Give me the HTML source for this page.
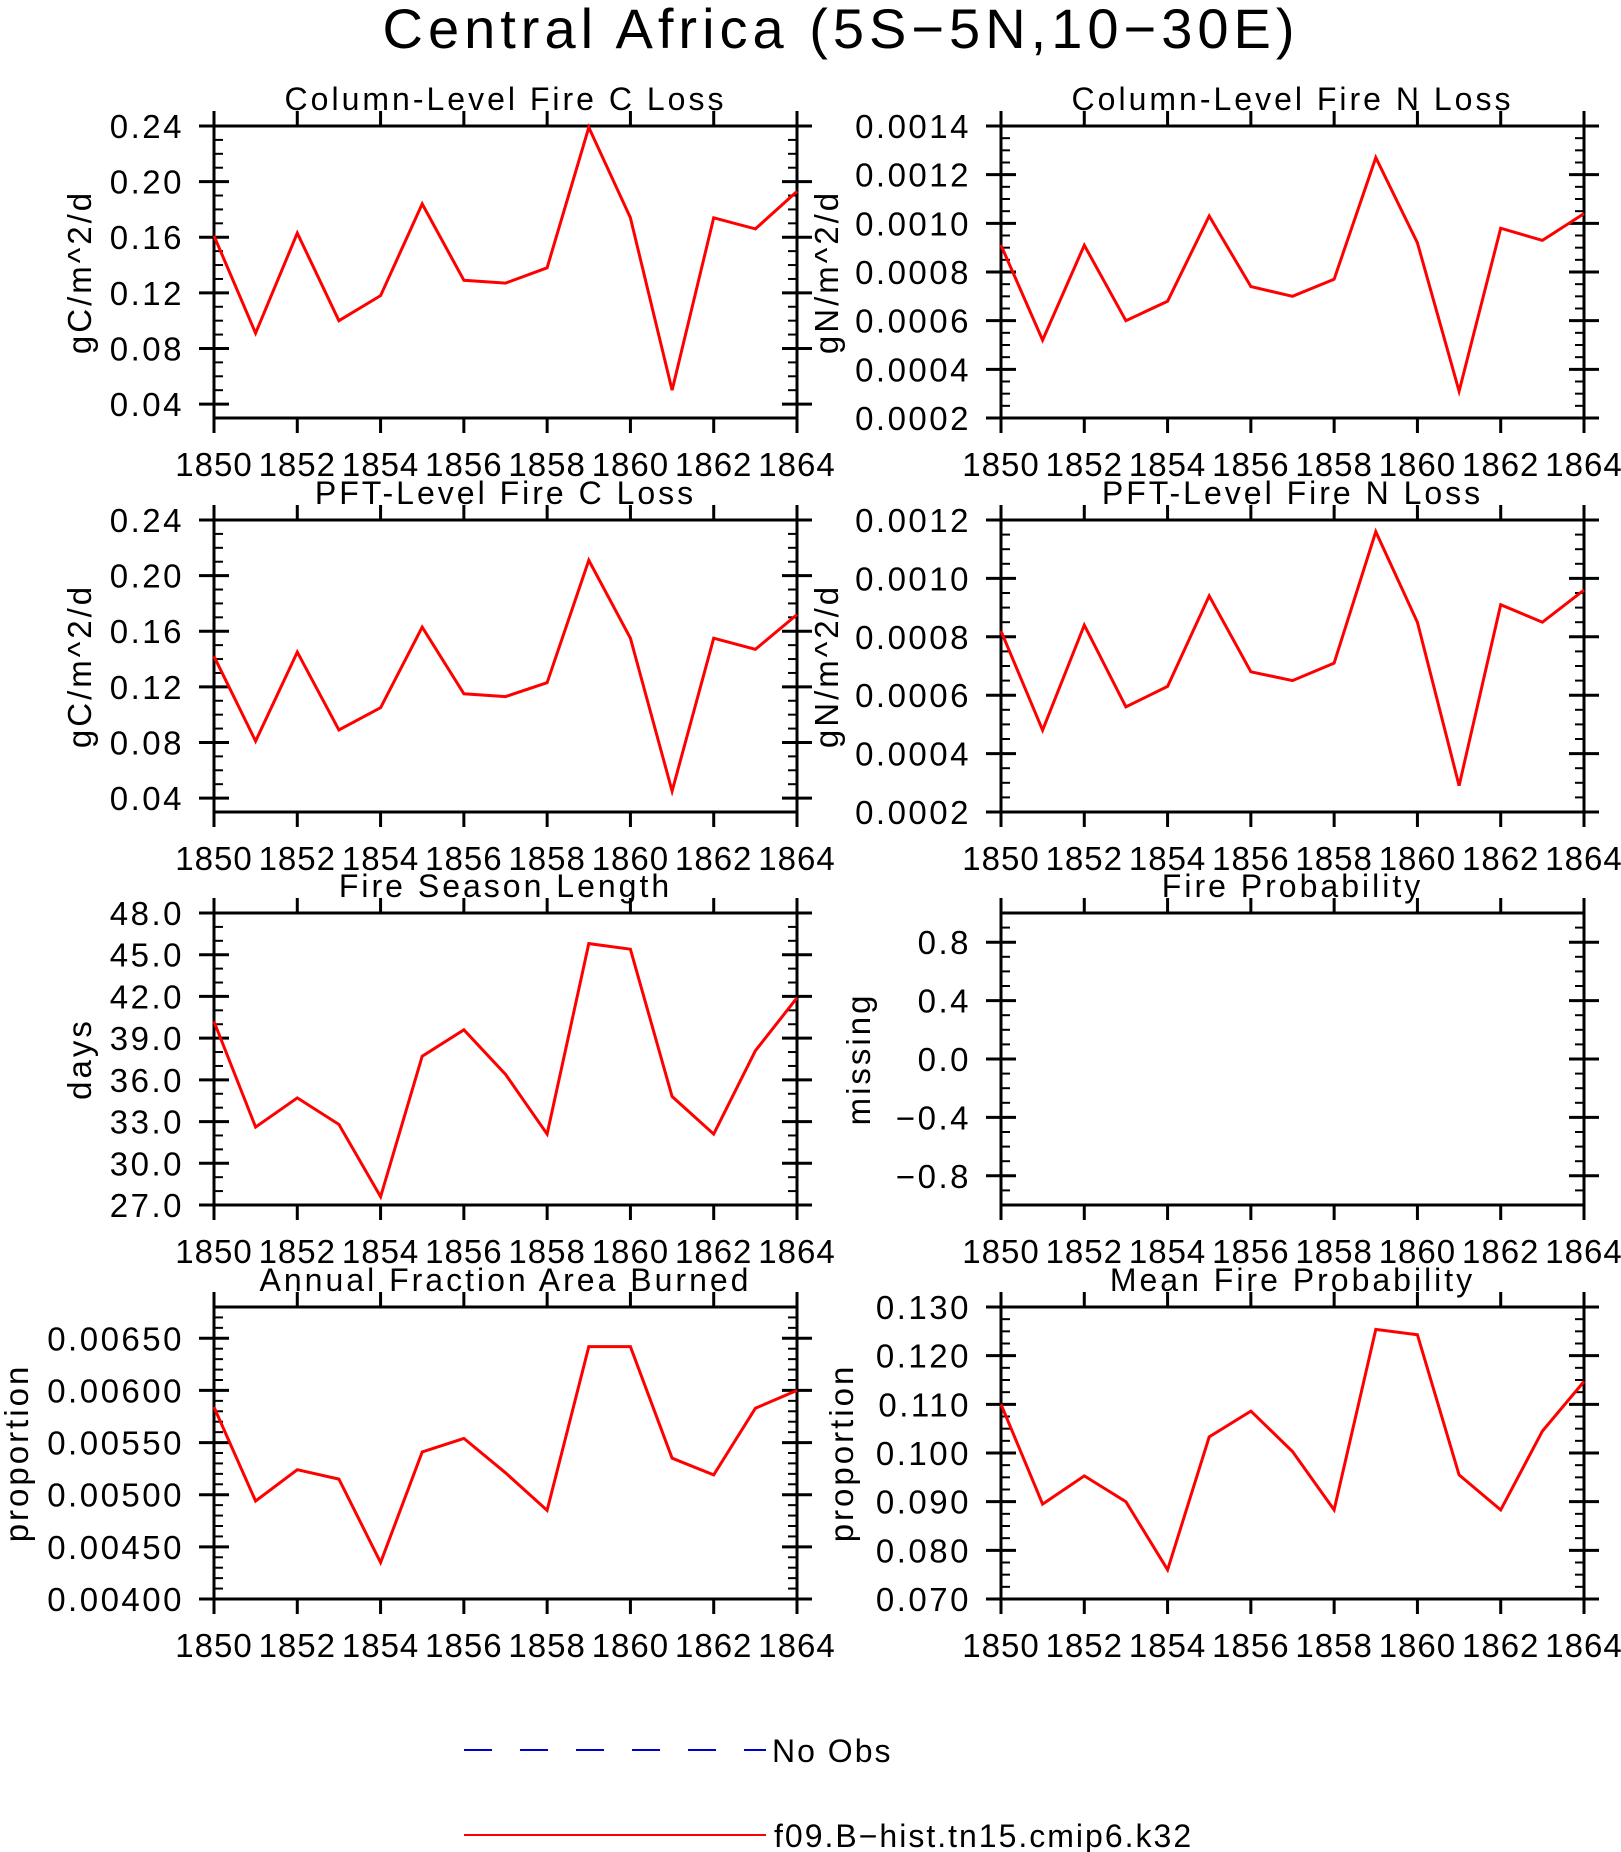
<!DOCTYPE html>
<html><head><meta charset="utf-8"><style>
body{margin:0;background:#fff}
svg{display:block}
text{font-family:"Liberation Sans",sans-serif;fill:#000}
</style></head><body>
<svg id="fig" width="1621" height="1852" viewBox="0 0 1621 1852">
<text x="841" y="48" font-size="56" letter-spacing="5" text-anchor="middle">Central Africa (5S−5N,10−30E)</text>
<g id="panels"></g>
<g>
<line x1="464" y1="1750" x2="766" y2="1750" stroke="#0000cc" stroke-width="2" stroke-dasharray="28,28"/>
<text x="772" y="1762" font-size="32" letter-spacing="2">No Obs</text>
<line x1="464" y1="1835" x2="766" y2="1835" stroke="#ff0000" stroke-width="2"/>
<text x="774" y="1847" font-size="32" letter-spacing="2">f09.B−hist.tn15.cmip6.k32</text>
</g>
</svg>
<script>
const years = [1850,1851,1852,1853,1854,1855,1856,1857,1858,1859,1860,1861,1862,1863,1864];
const xTicks = [1850,1852,1854,1856,1858,1860,1862,1864];
const colC = [0.161,0.091,0.163,0.100,0.118,0.184,0.129,0.127,0.138,0.239,0.174,0.050,0.174,0.166,0.193];
const colN = [0.00091,0.00052,0.00091,0.00060,0.00068,0.00103,0.00074,0.00070,0.00077,0.00127,0.00092,0.00031,0.00098,0.00093,0.00104];
const pftC = [0.142,0.081,0.145,0.089,0.105,0.163,0.115,0.113,0.123,0.211,0.155,0.045,0.155,0.147,0.172];
const pftN = [0.00082,0.00048,0.00084,0.00056,0.00063,0.00094,0.00068,0.00065,0.00071,0.00116,0.00085,0.00029,0.00091,0.00085,0.00096];
const seasonLen = [40.2,32.6,34.7,32.8,27.6,37.7,39.6,36.4,32.1,45.8,45.4,34.8,32.1,38.1,41.9];
const fireProb = [];
const areaBurned = [0.00584,0.00494,0.00524,0.00515,0.00435,0.00541,0.00554,0.00521,0.00485,0.00642,0.00642,0.00535,0.00519,0.00583,0.00600];
const meanProb = [0.110,0.0895,0.0953,0.090,0.0760,0.1033,0.1086,0.1003,0.0883,0.1254,0.1243,0.0955,0.0883,0.1045,0.1147];
const ticksC = ["0.04","0.08","0.12","0.16","0.20","0.24"];
const ticksN1 = ["0.0002","0.0004","0.0006","0.0008","0.0010","0.0012","0.0014"];
const ticksN2 = ["0.0002","0.0004","0.0006","0.0008","0.0010","0.0012"];
const ticksSeason = ["27.0","30.0","33.0","36.0","39.0","42.0","45.0","48.0"];
const ticksProb = ["-0.8","-0.4","0.0","0.4","0.8"];
const ticksArea = ["0.00400","0.00450","0.00500","0.00550","0.00600","0.00650"];
const ticksMean = ["0.070","0.080","0.090","0.100","0.110","0.120","0.130"];

const NS="http://www.w3.org/2000/svg";
const root=document.getElementById('panels');
const LX=[214,1001], W=583, TY=[126,520,913,1307], H=292;
const panels=[
 {c:0,r:0,name:'column-c-loss',title:'Column-Level Fire C Loss',yl:'gC/m^2/d',ylx:80,min:0.03,max:0.24,minor:0.01,ticks:ticksC,data:colC},
 {c:1,r:0,name:'column-n-loss',title:'Column-Level Fire N Loss',yl:'gN/m^2/d',ylx:827,min:0.0002,max:0.0014,minor:0.00005,ticks:ticksN1,data:colN},
 {c:0,r:1,name:'pft-c-loss',title:'PFT-Level Fire C Loss',yl:'gC/m^2/d',ylx:80,min:0.03,max:0.24,minor:0.01,ticks:ticksC,data:pftC},
 {c:1,r:1,name:'pft-n-loss',title:'PFT-Level Fire N Loss',yl:'gN/m^2/d',ylx:827,min:0.0002,max:0.0012,minor:0.00005,ticks:ticksN2,data:pftN},
 {c:0,r:2,name:'fire-season-length',title:'Fire Season Length',yl:'days',ylx:80,min:27,max:48,minor:1,ticks:ticksSeason,data:seasonLen},
 {c:1,r:2,name:'fire-probability',title:'Fire Probability',yl:'missing',ylx:859,min:-1,max:1,minor:0.1,ticks:ticksProb,data:fireProb},
 {c:0,r:3,name:'annual-fraction-area-burned',title:'Annual Fraction Area Burned',yl:'proportion',ylx:17,min:0.004,max:0.0068,minor:0.0001,ticks:ticksArea,data:areaBurned},
 {c:1,r:3,name:'mean-fire-probability',title:'Mean Fire Probability',yl:'proportion',ylx:842,min:0.07,max:0.13,minor:0.0025,ticks:ticksMean,data:meanProb}
];
function el(tag,attrs,parent){const e=document.createElementNS(NS,tag);for(const k in attrs)e.setAttribute(k,attrs[k]);parent.appendChild(e);return e;}
panels.forEach(p=>{
 const x0=LX[p.c],y0=TY[p.r],x1=x0+W,y1=y0+H;
 const g=el('g',{},root);
 
 
 const xs=v=>x0+(v-1850)/14*W;
 const ys=v=>y1-(v-p.min)/(p.max-p.min)*H;
 const t=el('text',{x:(x0+x1)/2,y:y0-16,'font-size':32,'letter-spacing':3,'text-anchor':'middle'},g);
 t.textContent=p.title;
 
 
 const yl=el('text',{x:0,y:0,'font-size':33,'letter-spacing':3,'text-anchor':'middle',transform:`translate(${p.ylx+11},${(y0+y1)/2}) rotate(-90)`},g);
 yl.textContent=p.yl;
 
 
 const nMin=Math.round((p.max-p.min)/p.minor);
 for(let i=0;i<=nMin;i++){const v=p.min+i*p.minor,y=ys(v);
  const m1=el('line',{x1:x0,y1:y,x2:x0+9,y2:y,stroke:'#000','stroke-width':2},g);
  
  
  const m2=el('line',{x1:x1,y1:y,x2:x1-9,y2:y,stroke:'#000','stroke-width':2},g);
  
  }
 p.ticks.forEach(s=>{const v=parseFloat(s),y=ys(v);
  const a=el('line',{x1:x0-15,y1:y,x2:x0+15,y2:y,stroke:'#000','stroke-width':3},g);
  
  
  const b=el('line',{x1:x1-15,y1:y,x2:x1+15,y2:y,stroke:'#000','stroke-width':3},g);
  
  
  const lt=el('text',{x:x0-30,y:y+12,'font-size':33,'letter-spacing':2.5,'text-anchor':'end'},g);
  lt.textContent=s.replace('-','−');
  
  });
 xTicks.forEach(yr=>{const x=xs(yr);
  const a=el('line',{x1:x,y1:y1,x2:x,y2:y1+15,stroke:'#000','stroke-width':3},g);
  
  
  const b=el('line',{x1:x,y1:y0,x2:x,y2:y0-15,stroke:'#000','stroke-width':3},g);
  
  
  const lt=el('text',{x:x,y:y1+58,'font-size':33,'letter-spacing':1,'text-anchor':'middle'},g);
  lt.textContent=yr;
  
  });
 const fr=el('rect',{x:x0,y:y0,width:W,height:H,fill:'none',stroke:'#000','stroke-width':3},g);
 
 
 if(p.data.length){
  const pts=p.data.map((v,i)=>xs(years[i]).toFixed(1)+','+ys(v).toFixed(1)).join(' ');
  const pl=el('polyline',{points:pts,fill:'none',stroke:'#ff0000','stroke-width':3,'stroke-linejoin':'miter'},g);
  
  
 }
});
</script>
</body></html>
